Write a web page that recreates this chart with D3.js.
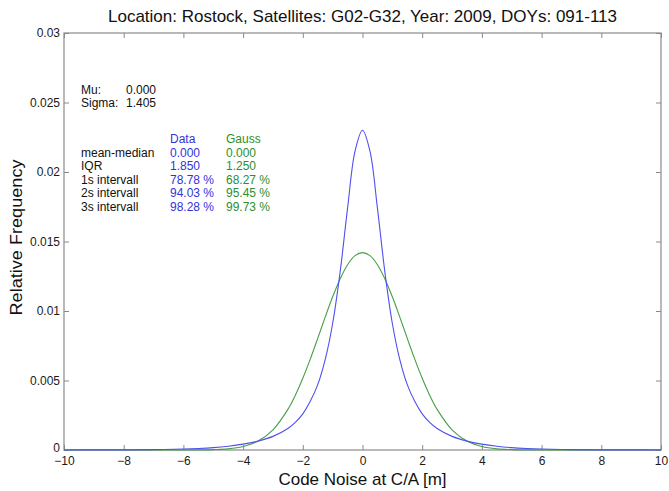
<!DOCTYPE html>
<html>
<head>
<meta charset="utf-8">
<script src="https://cdn.jsdelivr.net/npm/d3@7"></script>
<style>
  html, body { margin: 0; padding: 0; background: #fff; }
  svg { display: block; font-family: Arial, "Liberation Sans", sans-serif; }
</style>
</head>
<body>
<svg id="chart" width="669" height="491"></svg>
<script>
// Code noise distribution: measured relative frequency vs. fitted Gauss curve
const title = "Location: Rostock, Satellites: G02-G32, Year: 2009, DOYs: 091-113";
const xLabel = "Code Noise at C/A [m]";
const yLabel = "Relative Frequency";

const noise = [-10, -9, -8, -7, -6, -5.5, -5, -4.5, -4, -3.5, -3, -2.5, -2.25, -2, -1.75, -1.5, -1.25, -1, -0.75, -0.5, -0.25,
  0, 0.25, 0.5, 0.75, 1, 1.25, 1.5, 1.75, 2, 2.25, 2.5, 3, 3.5, 4, 4.5, 5, 5.5, 6, 7, 8, 9, 10];

const dataFreq = [0, 0.00001, 0.00001, 0.00003, 0.00007, 0.00011, 0.00017, 0.00027, 0.00042, 0.00064, 0.00098, 0.00155, 0.00199, 0.0026, 0.0035, 0.0047, 0.0065, 0.0091, 0.0128, 0.0174, 0.0215,
  0.0230, 0.0215, 0.0174, 0.0128, 0.0091, 0.0065, 0.0047, 0.0035, 0.0026, 0.00199, 0.00155, 0.00098, 0.00064, 0.00042, 0.00027, 0.00017, 0.00011, 0.00007, 0.00003, 0.00001, 0.00001, 0];

const gaussFreq = [0, 0, 0, 0, 0, 0.00001, 0.00003, 0.00008, 0.00025, 0.00064, 0.00145, 0.00292, 0.00394, 0.00516, 0.00654, 0.00803, 0.00956, 0.01102, 0.01231, 0.01333, 0.01398,
  0.01420, 0.01398, 0.01333, 0.01231, 0.01102, 0.00956, 0.00803, 0.00654, 0.00516, 0.00394, 0.00292, 0.00145, 0.00064, 0.00025, 0.00008, 0.00003, 0.00001, 0, 0, 0, 0, 0];

const xTicks = [-10, -8, -6, -4, -2, 0, 2, 4, 6, 8, 10];
const yTicks = [0, 0.005, 0.01, 0.015, 0.02, 0.025, 0.03];
const yTickLabels = ["0", "0.005", "0.01", "0.015", "0.02", "0.025", "0.03"];

const fitLabels = ["Mu:", "Sigma:"];
const fitValues = ["0.000", "1.405"];

const statHeaders = ["Data", "Gauss"];
const statNames = ["mean-median", "IQR", "1s intervall", "2s intervall", "3s intervall"];
const statData = ["0.000", "1.850", "78.78 %", "94.03 %", "98.28 %"];
const statGauss = ["0.000", "1.250", "68.27 %", "95.45 %", "99.73 %"];

const blueLine = "#5050ee";
const greenLine = "#46a046";
const blueText = "#3333dd";
const greenText = "#2e8e2e";
const axisGrey = "#8a8a8a";

const svg = d3.select("#chart");
const m = { left: 64, right: 8, top: 33, bottom: 41 };
const W = 669, H = 491;
const pw = W - m.left - m.right, ph = H - m.top - m.bottom;

const x = d3.scaleLinear().domain([-10, 10]).range([m.left, m.left + pw]);
const y = d3.scaleLinear().domain([0, 0.03]).range([m.top + ph, m.top]);

const g = svg.append("g");

// frame
g.append("rect")
  .attr("x", m.left).attr("y", m.top).attr("width", pw).attr("height", ph)
  .attr("fill", "none").attr("stroke", axisGrey).attr("stroke-width", 1.2);

function styleAxis(sel) {
  sel.select(".domain").remove();
  sel.selectAll(".tick line").attr("stroke", axisGrey).attr("stroke-width", 1);
  sel.selectAll(".tick text").attr("fill", "#1a1a1a").style("font-size", "12px")
    .style("font-family", "Arial, 'Liberation Sans', sans-serif");
}

g.append("g").attr("transform", `translate(0,${m.top + ph})`)
  .call(d3.axisBottom(x).tickValues(xTicks).tickSize(-5).tickPadding(6).tickFormat(d3.format("d")))
  .call(styleAxis);
g.append("g").attr("transform", `translate(0,${m.top})`)
  .call(d3.axisTop(x).tickValues(xTicks).tickSize(-5).tickFormat(""))
  .call(styleAxis);
const yAxisG = g.append("g").attr("transform", `translate(${m.left},0)`)
  .call(d3.axisLeft(y).tickValues(yTicks).tickSize(-5).tickPadding(4).tickFormat((d, i) => yTickLabels[i]))
  .call(styleAxis);
// the zero label sits just above the corner so it clears the x tick labels
yAxisG.selectAll(".tick").filter(d => d === 0).select("text").attr("dy", "0.1em");
g.append("g").attr("transform", `translate(${m.left + pw},0)`)
  .call(d3.axisRight(y).tickValues(yTicks).tickSize(-5).tickFormat(""))
  .call(styleAxis);

// curves
const line = (vals) => d3.line()
  .x((d, i) => x(noise[i]))
  .y(d => y(d))
  .curve(d3.curveCatmullRom.alpha(0.5))(vals);

g.append("path").attr("d", line(gaussFreq))
  .attr("fill", "none").attr("stroke", greenLine).attr("stroke-width", 1.1);
g.append("path").attr("d", line(dataFreq))
  .attr("fill", "none").attr("stroke", blueLine).attr("stroke-width", 1.1);

// titles
svg.append("text").attr("x", x(0)).attr("y", 22).attr("text-anchor", "middle")
  .style("font-size", "17px").attr("fill", "#111").text(title);
svg.append("text").attr("x", x(0)).attr("y", 485).attr("text-anchor", "middle")
  .style("font-size", "17px").attr("fill", "#111").text(xLabel);
svg.append("text").attr("transform", `translate(22,${y(0.015) - 4}) rotate(-90)`).attr("text-anchor", "middle")
  .style("font-size", "17px").attr("textLength", 156).attr("lengthAdjust", "spacingAndGlyphs")
  .attr("fill", "#111").text(yLabel);

// fit parameters
const info = svg.append("g").style("font-size", "12px");
fitLabels.forEach((t, i) => {
  info.append("text").attr("x", 81).attr("y", 94 + i * 13).attr("fill", "#111").text(t);
  info.append("text").attr("x", 126).attr("y", 94 + i * 13).attr("fill", "#111").text(fitValues[i]);
});

// statistics table
info.append("text").attr("x", 170).attr("y", 143).attr("fill", blueText).text(statHeaders[0]);
info.append("text").attr("x", 226).attr("y", 143).attr("fill", greenText).text(statHeaders[1]);
statNames.forEach((t, i) => {
  const yy = 157 + i * 13.4;
  info.append("text").attr("x", 81).attr("y", yy).attr("fill", "#111").text(t);
  info.append("text").attr("x", 170).attr("y", yy).attr("fill", blueText).text(statData[i]);
  info.append("text").attr("x", 226).attr("y", yy).attr("fill", greenText).text(statGauss[i]);
});
</script>
</body>
</html>
